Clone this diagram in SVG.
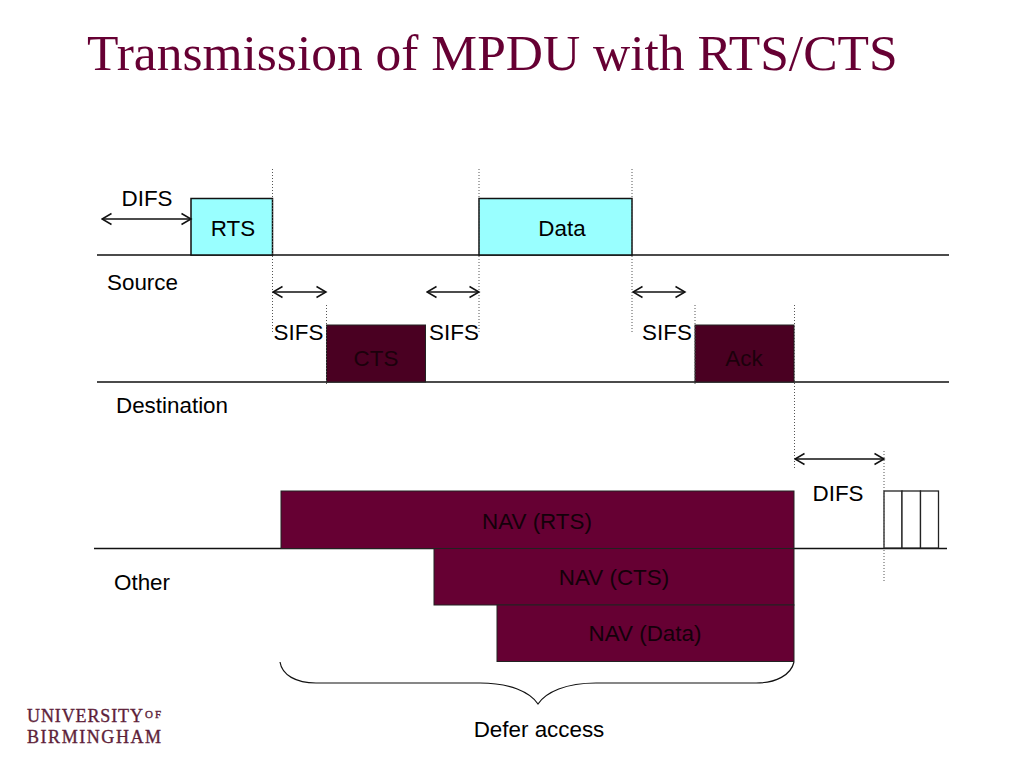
<svg xmlns="http://www.w3.org/2000/svg" width="1024" height="768" viewBox="0 0 1024 768">
<style>
text{font-family:"Liberation Sans",Arial,sans-serif;font-size:22.4px;fill:#000}
.title{font-family:"Liberation Serif","Times New Roman",serif;font-size:51.5px;fill:#660033}
.logo{font-family:"Liberation Serif","Times New Roman",serif;fill:#5e1f3a;stroke:#5e1f3a;stroke-width:.35;font-size:18px}
.c{text-anchor:middle}
.line{stroke:#111;stroke-width:1.4;fill:none}
.dot{stroke:#555;stroke-width:1;stroke-dasharray:1 2;fill:none}
.arr{stroke:#111;stroke-width:1.4;fill:none;marker-start:url(#a);marker-end:url(#a)}
.cy{fill:#99ffff;stroke:#111;stroke-width:1.5}
.dk{fill:#4a0022;stroke:#222;stroke-width:1}
.nav{fill:#660033;stroke:#222;stroke-width:1}
.slot{fill:#fff;stroke:#222;stroke-width:1.3}
.on{fill:#1c000c}
.ov{fill:#14000a}
</style>
<defs><marker id="a" orient="auto-start-reverse" markerUnits="userSpaceOnUse" markerWidth="12" markerHeight="14" refX="10.500" refY="7"><path d="M1 1.500L10.500 7L1 12.500" fill="none" stroke="#111" stroke-width="1.500"/></marker></defs>
<text class="title" x="87" y="70">Transmission of MPDU with RTS/CTS</text>
<g id="timelines">
<path class="line" d="M97 255H949M97 382H949M94 548.500H947"/>
</g>
<g id="node-rts"><rect class="cy" x="191" y="198.500" width="81.500" height="56.500"/><text class="c" x="233" y="236">RTS</text></g>
<g id="node-data"><rect class="cy" x="479" y="198.500" width="153" height="56.500"/><text class="c" x="562" y="236">Data</text></g>
<g id="node-cts"><rect class="dk" x="326.500" y="325" width="99" height="57"/><text class="c on" x="376" y="366">CTS</text></g>
<g id="node-ack"><rect class="dk" x="695" y="325" width="99" height="57"/><text class="c on" x="744" y="366">Ack</text></g>
<g id="node-nav-rts"><rect class="nav" x="281" y="491" width="513" height="57.500"/><text class="c ov" x="537" y="529">NAV (RTS)</text></g>
<g id="node-nav-cts"><rect class="nav" x="434" y="548.500" width="360" height="56.500"/><text class="c ov" x="614" y="585">NAV (CTS)</text></g>
<g id="node-nav-data"><rect class="nav" x="497" y="605" width="297" height="56.500"/><text class="c ov" x="645" y="641">NAV (Data)</text></g>
<g id="node-slots"><rect class="slot" x="884" y="491" width="18" height="57"/><rect class="slot" x="902" y="491" width="18.500" height="57"/><rect class="slot" x="920.500" y="491" width="18" height="57"/></g>
<g id="connectors">
<path class="dot" d="M272.500 169V334M326.500 305V386M479 169V334M632 169V334M695 305V386M794.500 305V470M884 451V583"/>
<path class="arr" d="M102 219H191"/>
<path class="arr" d="M273 292H326"/>
<path class="arr" d="M427 292H479"/>
<path class="arr" d="M633 292H685"/>
<path class="arr" d="M795 459H884"/>
<path d="M280 662C282 675 296 683 316 683H480C510 683 530 692 538 704C546 692 566 683 596 683H756C776 683 791 675 794 662" fill="none" stroke="#111" stroke-width="1.2"/>
</g>
<g id="labels">
<text class="c" x="147" y="206">DIFS</text>
<text x="107" y="290">Source</text>
<text x="116" y="413">Destination</text>
<text x="114" y="590">Other</text>
<text class="c" x="298.500" y="340">SIFS</text>
<text class="c" x="454" y="340">SIFS</text>
<text class="c" x="667" y="340">SIFS</text>
<text class="c" x="838" y="501">DIFS</text>
<text class="c" x="539" y="737">Defer access</text>
</g>
<g id="logo">
<text class="logo" x="27" y="722" textLength="116" lengthAdjust="spacing">UNIVERSITY</text>
<text class="logo" x="145" y="718" style="font-size:11px" textLength="16" lengthAdjust="spacing">OF</text>
<text class="logo" x="27" y="743" textLength="134" lengthAdjust="spacing">BIRMINGHAM</text>
</g>
</svg>
